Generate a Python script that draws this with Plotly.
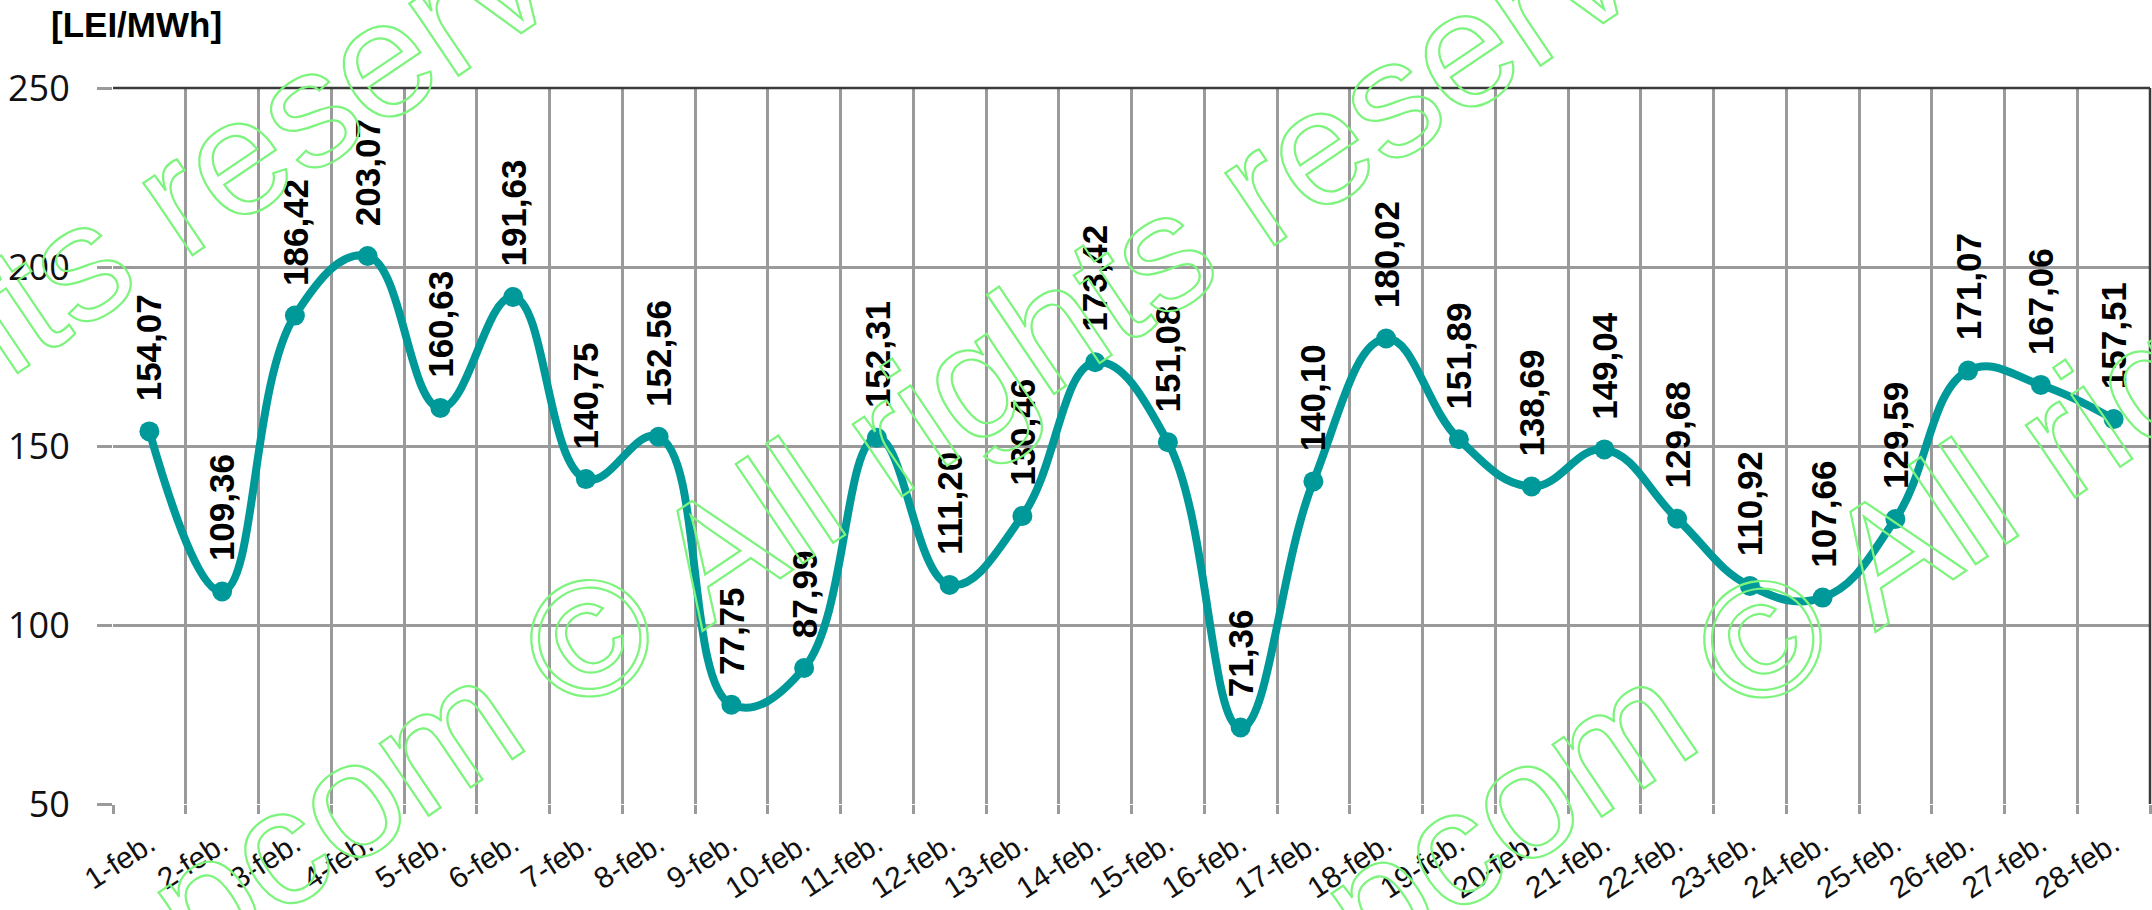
import plotly.graph_objects as go

days = ["1-feb.", "2-feb.", "3-feb.", "4-feb.", "5-feb.", "6-feb.", "7-feb.",
        "8-feb.", "9-feb.", "10-feb.", "11-feb.", "12-feb.", "13-feb.", "14-feb.",
        "15-feb.", "16-feb.", "17-feb.", "18-feb.", "19-feb.", "20-feb.", "21-feb.",
        "22-feb.", "23-feb.", "24-feb.", "25-feb.", "26-feb.", "27-feb.", "28-feb."]
prices = [154.07, 109.36, 186.42, 203.07, 160.63, 191.63, 140.75, 152.56, 77.75, 87.99,
          152.31, 111.20, 130.46, 173.42, 151.08, 71.36, 140.10, 180.02, 151.89, 138.69,
          149.04, 129.68, 110.92, 107.66, 129.59, 171.07, 167.06, 157.51]
y_ticks = [50, 100, 150, 200, 250]
unit_label = "[LEI/MWh]"
watermark_text = "opcom © All rights reserved"

W, H = 2152, 910
ML, MR, MT, MB = 113, 2, 88, 106
PW, PH = W - ML - MR, H - MT - MB

TEAL = "#009999"
GRID = "#9a9a9a"
WM = "#7DF47D"

fig = go.Figure()
fig.add_trace(go.Scatter(
    x=days, y=prices, mode="lines+markers",
    line=dict(color=TEAL, width=8, shape="spline", smoothing=1.2),
    marker=dict(color=TEAL, size=20),
    hoverinfo="skip", showlegend=False,
))

ann = []
for d, v in zip(days, prices):
    ann.append(dict(
        x=d, y=v, xref="x", yref="y", text=f"{v:.2f}".replace(".", ","),
        textangle=-90, showarrow=False, xanchor="center", yanchor="bottom",
        yshift=28, font=dict(family="Liberation Sans", size=35, color="black", weight="bold"),
    ))

ann.append(dict(
    x=(49 - ML) / PW, y=(H - MB - 24) / PH, xref="paper", yref="paper",
    text=unit_label, showarrow=False, xanchor="left", yanchor="middle",
    font=dict(family="Liberation Sans", size=35, color="black", weight="bold"),
))

# watermark text (drawn as outline by the post script below)
for cx, cy in [(-154, 420), (928, 410), (2101, 411)]:
    ann.append(dict(
        x=(cx - ML) / PW, y=(H - MB - cy) / PH, xref="paper", yref="paper",
        text=watermark_text, showarrow=False, xanchor="center", yanchor="middle",
        textangle=-34,
        font=dict(family="Liberation Sans", size=165, color=WM),
    ))

fig.update_layout(
    width=W, height=H,
    margin=dict(l=ML, r=MR, t=MT, b=MB, pad=0, autoexpand=False),
    paper_bgcolor="white", plot_bgcolor="white",
    annotations=ann,
    xaxis=dict(
        type="category", tickson="boundaries", showgrid=True, automargin=False,
        gridcolor=GRID, gridwidth=2.5,
        ticks="outside", ticklen=9, tickwidth=2.5, tickcolor=GRID,
        tickangle=-33, ticklabelstandoff=16,
        tickfont=dict(family="Liberation Sans", size=30, color="#111111"),
        showline=False, zeroline=False, range=[-0.5, len(days) - 0.5],
    ),
    yaxis=dict(
        range=[50, 250], tickvals=y_ticks, showgrid=True, automargin=False,
        gridcolor=GRID, gridwidth=2.5,
        ticks="outside", ticklen=15, tickwidth=2.5, tickcolor=GRID,
        ticklabelstandoff=20,
        tickfont=dict(family="Open Sans", size=36, color="#111111"),
        showline=False, zeroline=False,
    ),
    shapes=[
        dict(type="line", xref="paper", yref="paper", x0=0, x1=1, y0=1, y1=1,
             line=dict(color="#3a3a3a", width=2.5)),
        dict(type="line", xref="paper", yref="paper", x0=1, x1=1, y0=0, y1=1,
             line=dict(color="#3a3a3a", width=2.5)),
    ],
)

post = """
document.body.style.margin = '0';
document.body.style.overflow = 'hidden';
var gd = document.getElementById('{plot_id}');
function outlineWatermark() {
  gd.querySelectorAll('.annotation-text').forEach(function (t) {
    if (t.textContent.indexOf('opcom') >= 0) {
      t.style.fill = 'none';
      t.style.stroke = '%s';
      t.style.strokeWidth = '2.2px';
    }
  });
}
outlineWatermark();
gd.on('plotly_afterplot', outlineWatermark);
setTimeout(outlineWatermark, 50);
""" % WM

fig.write_html("out.html", post_script=post, config={"displayModeBar": False})
